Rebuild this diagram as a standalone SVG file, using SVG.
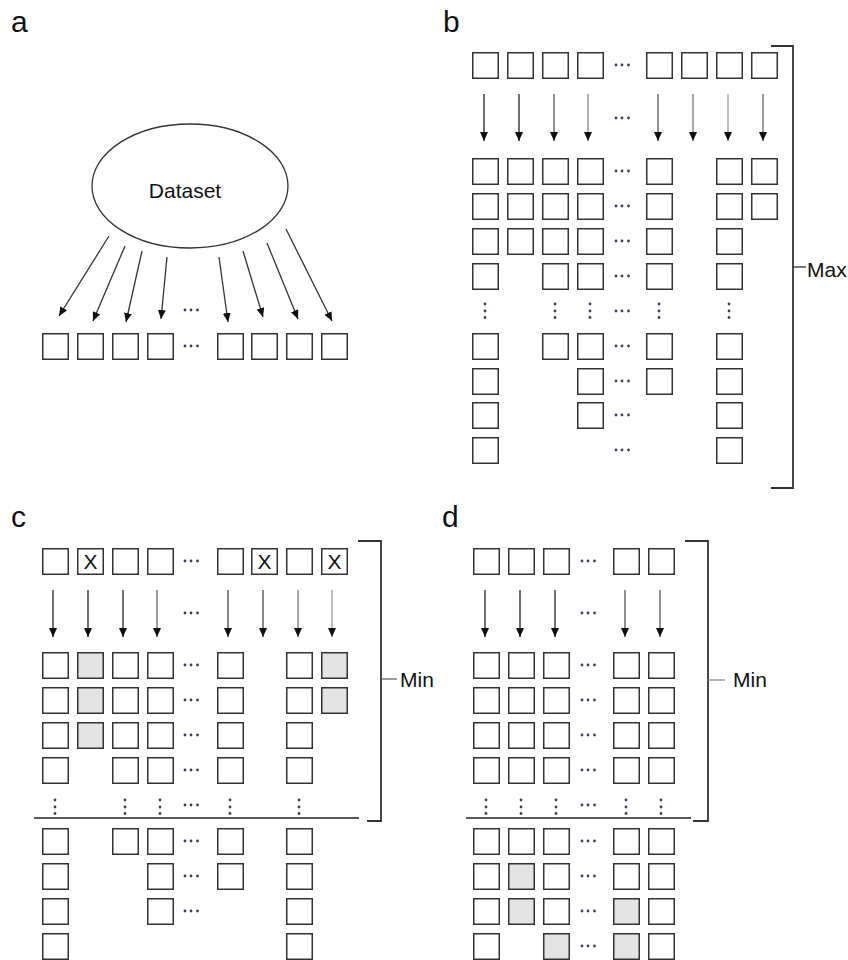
<svg xmlns="http://www.w3.org/2000/svg" width="848" height="960" viewBox="0 0 848 960">
<style>
.bx{fill:#fff;stroke:#333;stroke-width:1.5}
.gy{fill:#e3e3e3;stroke:#333;stroke-width:1.5}
.ar{stroke-width:1.3;fill:none}
.dt{fill:#3a3f5a}
.br{fill:none;stroke:#333;stroke-width:1.8}
.lbl{font-family:"Liberation Sans",Arial,sans-serif;fill:#111}
.pl{font-size:30px}
.tx{font-size:21px}
.xm{font-size:21px;text-anchor:middle}
</style>
<defs>
<marker id="ah" markerUnits="userSpaceOnUse" markerWidth="9" markerHeight="8" refX="9" refY="4" orient="auto">
<path d="M0,0 L9,4 L0,8 z" fill="#111"/>
</marker>
<g id="hd"><circle cx="-6" cy="0" r="1.4"/><circle cx="0" cy="0" r="1.4"/><circle cx="6.5" cy="0" r="1.4"/></g>
<g id="vd"><circle cx="0" cy="-7" r="1.4"/><circle cx="0" cy="0" r="1.4"/><circle cx="0" cy="6.5" r="1.4"/></g>
</defs>
<rect width="848" height="960" fill="#fff"/>

<!-- panel labels -->
<text class="lbl pl" x="11" y="32">a</text>
<text class="lbl pl" x="443" y="32">b</text>
<text class="lbl pl" x="11" y="527">c</text>
<text class="lbl pl" x="442" y="527">d</text>

<!-- ===== Panel a ===== -->
<g id="a-dataset">
<ellipse cx="190" cy="186" rx="98" ry="62" fill="#fff" stroke="#333" stroke-width="1.3"/>
<text class="lbl tx" x="185" y="198" text-anchor="middle">Dataset</text>
</g>
<g id="a-boxes">
<g id="a-1"><rect class="bx" x="42.75" y="333.75" width="25.5" height="25.5"/></g>
<g id="a-2"><rect class="bx" x="77.75" y="333.75" width="25.5" height="25.5"/></g>
<g id="a-3"><rect class="bx" x="112.75" y="333.75" width="25.5" height="25.5"/></g>
<g id="a-4"><rect class="bx" x="147.75" y="333.75" width="25.5" height="25.5"/></g>
<g id="a-5"><rect class="bx" x="217.75" y="333.75" width="25.5" height="25.5"/></g>
<g id="a-6"><rect class="bx" x="251.75" y="333.75" width="25.5" height="25.5"/></g>
<g id="a-7"><rect class="bx" x="286.75" y="333.75" width="25.5" height="25.5"/></g>
<g id="a-8"><rect class="bx" x="321.75" y="333.75" width="25.5" height="25.5"/></g>
</g>
<g class="dt">
<use href="#hd" x="191" y="310"/>
<use href="#hd" x="191" y="346"/>
</g>
<g id="a-connectors" class="ar" stroke="#333" marker-end="url(#ah)">
<line x1="109" y1="236" x2="59" y2="316"/>
<line x1="125" y1="246" x2="93" y2="321"/>
<line x1="142" y1="251" x2="126" y2="322"/>
<line x1="167" y1="257" x2="161" y2="319"/>
<line x1="219" y1="257" x2="228" y2="322"/>
<line x1="243" y1="251" x2="263" y2="317"/>
<line x1="267" y1="243" x2="298" y2="319"/>
<line x1="286" y1="229" x2="332" y2="321"/>
</g>

<!-- ===== Panel b ===== -->
<g id="b-top">
<g id="b-t1"><rect class="bx" x="472.75" y="52.75" width="25.5" height="25.5"/></g>
<g id="b-t2"><rect class="bx" x="507.75" y="52.75" width="25.5" height="25.5"/></g>
<g id="b-t3"><rect class="bx" x="542.75" y="52.75" width="25.5" height="25.5"/></g>
<g id="b-t4"><rect class="bx" x="577.75" y="52.75" width="25.5" height="25.5"/></g>
<g id="b-t5"><rect class="bx" x="646.75" y="52.75" width="25.5" height="25.5"/></g>
<g id="b-t6"><rect class="bx" x="681.75" y="52.75" width="25.5" height="25.5"/></g>
<g id="b-t7"><rect class="bx" x="716.75" y="52.75" width="25.5" height="25.5"/></g>
<g id="b-t8"><rect class="bx" x="751.75" y="52.75" width="25.5" height="25.5"/></g>
</g>
<g id="b-connectors" class="ar" marker-end="url(#ah)">
<line x1="484" y1="94" x2="484" y2="141" stroke="#222"/>
<line x1="519" y1="94" x2="519" y2="141" stroke="#222"/>
<line x1="554" y1="94" x2="554" y2="141" stroke="#555"/>
<line x1="588" y1="94" x2="588" y2="141" stroke="#888"/>
<line x1="658" y1="94" x2="658" y2="141" stroke="#555"/>
<line x1="693" y1="94" x2="693" y2="141" stroke="#777"/>
<line x1="728" y1="94" x2="728" y2="141" stroke="#999"/>
<line x1="763" y1="94" x2="763" y2="141" stroke="#666"/>
</g>
<g id="b-grid">
<g id="b-r1c1"><rect class="bx" x="472.75" y="158.75" width="25.5" height="25.5"/></g>
<g id="b-r1c2"><rect class="bx" x="507.75" y="158.75" width="25.5" height="25.5"/></g>
<g id="b-r1c3"><rect class="bx" x="542.75" y="158.75" width="25.5" height="25.5"/></g>
<g id="b-r1c4"><rect class="bx" x="577.75" y="158.75" width="25.5" height="25.5"/></g>
<g id="b-r1c5"><rect class="bx" x="646.75" y="158.75" width="25.5" height="25.5"/></g>
<g id="b-r1c7"><rect class="bx" x="716.75" y="158.75" width="25.5" height="25.5"/></g>
<g id="b-r1c8"><rect class="bx" x="751.75" y="158.75" width="25.5" height="25.5"/></g>
<g id="b-r2c1"><rect class="bx" x="472.75" y="193.75" width="25.5" height="25.5"/></g>
<g id="b-r2c2"><rect class="bx" x="507.75" y="193.75" width="25.5" height="25.5"/></g>
<g id="b-r2c3"><rect class="bx" x="542.75" y="193.75" width="25.5" height="25.5"/></g>
<g id="b-r2c4"><rect class="bx" x="577.75" y="193.75" width="25.5" height="25.5"/></g>
<g id="b-r2c5"><rect class="bx" x="646.75" y="193.75" width="25.5" height="25.5"/></g>
<g id="b-r2c7"><rect class="bx" x="716.75" y="193.75" width="25.5" height="25.5"/></g>
<g id="b-r2c8"><rect class="bx" x="751.75" y="193.75" width="25.5" height="25.5"/></g>
<g id="b-r3c1"><rect class="bx" x="472.75" y="228.75" width="25.5" height="25.5"/></g>
<g id="b-r3c2"><rect class="bx" x="507.75" y="228.75" width="25.5" height="25.5"/></g>
<g id="b-r3c3"><rect class="bx" x="542.75" y="228.75" width="25.5" height="25.5"/></g>
<g id="b-r3c4"><rect class="bx" x="577.75" y="228.75" width="25.5" height="25.5"/></g>
<g id="b-r3c5"><rect class="bx" x="646.75" y="228.75" width="25.5" height="25.5"/></g>
<g id="b-r3c7"><rect class="bx" x="716.75" y="228.75" width="25.5" height="25.5"/></g>
<g id="b-r4c1"><rect class="bx" x="472.75" y="263.75" width="25.5" height="25.5"/></g>
<g id="b-r4c3"><rect class="bx" x="542.75" y="263.75" width="25.5" height="25.5"/></g>
<g id="b-r4c4"><rect class="bx" x="577.75" y="263.75" width="25.5" height="25.5"/></g>
<g id="b-r4c5"><rect class="bx" x="646.75" y="263.75" width="25.5" height="25.5"/></g>
<g id="b-r4c7"><rect class="bx" x="716.75" y="263.75" width="25.5" height="25.5"/></g>
<g id="b-r5c1"><rect class="bx" x="472.75" y="333.75" width="25.5" height="25.5"/></g>
<g id="b-r5c3"><rect class="bx" x="542.75" y="333.75" width="25.5" height="25.5"/></g>
<g id="b-r5c4"><rect class="bx" x="577.75" y="333.75" width="25.5" height="25.5"/></g>
<g id="b-r5c5"><rect class="bx" x="646.75" y="333.75" width="25.5" height="25.5"/></g>
<g id="b-r5c7"><rect class="bx" x="716.75" y="333.75" width="25.5" height="25.5"/></g>
<g id="b-r6c1"><rect class="bx" x="472.75" y="368.75" width="25.5" height="25.5"/></g>
<g id="b-r6c4"><rect class="bx" x="577.75" y="368.75" width="25.5" height="25.5"/></g>
<g id="b-r6c5"><rect class="bx" x="646.75" y="368.75" width="25.5" height="25.5"/></g>
<g id="b-r6c7"><rect class="bx" x="716.75" y="368.75" width="25.5" height="25.5"/></g>
<g id="b-r7c1"><rect class="bx" x="472.75" y="402.75" width="25.5" height="25.5"/></g>
<g id="b-r7c4"><rect class="bx" x="577.75" y="402.75" width="25.5" height="25.5"/></g>
<g id="b-r7c7"><rect class="bx" x="716.75" y="402.75" width="25.5" height="25.5"/></g>
<g id="b-r8c1"><rect class="bx" x="472.75" y="437.75" width="25.5" height="25.5"/></g>
<g id="b-r8c7"><rect class="bx" x="716.75" y="437.75" width="25.5" height="25.5"/></g>
</g>
<g class="dt">
<use href="#hd" x="622" y="65"/>
<use href="#hd" x="622" y="118"/>
<use href="#hd" x="622" y="171"/>
<use href="#hd" x="622" y="206"/>
<use href="#hd" x="622" y="241"/>
<use href="#hd" x="622" y="276"/>
<use href="#hd" x="622" y="311"/>
<use href="#hd" x="622" y="346"/>
<use href="#hd" x="622" y="381"/>
<use href="#hd" x="622" y="415"/>
<use href="#hd" x="622" y="450"/>
<use href="#vd" x="485" y="311"/>
<use href="#vd" x="555" y="311"/>
<use href="#vd" x="590" y="311"/>
<use href="#vd" x="659" y="311"/>
<use href="#vd" x="729" y="311"/>
</g>
<g id="b-bracket">
<path class="br" d="M771,46 H793 V488 H771"/>
<line x1="793" y1="267" x2="806" y2="267" stroke="#333" stroke-width="1.3"/>
<text class="lbl tx" x="807" y="277">Max</text>
</g>

<!-- ===== Panel c ===== -->
<g id="c-top">
<g id="c-t1"><rect class="bx" x="42.75" y="548.75" width="25.5" height="25.5"/></g>
<g id="c-t2"><rect class="bx" x="77.75" y="548.75" width="25.5" height="25.5"/><text class="lbl xm" x="90.5" y="569">X</text></g>
<g id="c-t3"><rect class="bx" x="112.75" y="548.75" width="25.5" height="25.5"/></g>
<g id="c-t4"><rect class="bx" x="147.75" y="548.75" width="25.5" height="25.5"/></g>
<g id="c-t5"><rect class="bx" x="217.75" y="548.75" width="25.5" height="25.5"/></g>
<g id="c-t6"><rect class="bx" x="251.75" y="548.75" width="25.5" height="25.5"/><text class="lbl xm" x="264.5" y="569">X</text></g>
<g id="c-t7"><rect class="bx" x="286.75" y="548.75" width="25.5" height="25.5"/></g>
<g id="c-t8"><rect class="bx" x="321.75" y="548.75" width="25.5" height="25.5"/><text class="lbl xm" x="334.5" y="569">X</text></g>
</g>
<g id="c-connectors" class="ar" marker-end="url(#ah)">
<line x1="53" y1="590" x2="53" y2="637" stroke="#222"/>
<line x1="88" y1="590" x2="88" y2="637" stroke="#222"/>
<line x1="123" y1="590" x2="123" y2="637" stroke="#222"/>
<line x1="157" y1="590" x2="157" y2="637" stroke="#666"/>
<line x1="228" y1="590" x2="228" y2="637" stroke="#444"/>
<line x1="263" y1="590" x2="263" y2="637" stroke="#444"/>
<line x1="298" y1="590" x2="298" y2="637" stroke="#777"/>
<line x1="332" y1="590" x2="332" y2="637" stroke="#999"/>
</g>
<g id="c-grid">
<g id="c-r1c1"><rect class="bx" x="42.75" y="652.75" width="25.5" height="25.5"/></g>
<g id="c-r1c2"><rect class="gy" x="77.75" y="652.75" width="25.5" height="25.5"/></g>
<g id="c-r1c3"><rect class="bx" x="112.75" y="652.75" width="25.5" height="25.5"/></g>
<g id="c-r1c4"><rect class="bx" x="147.75" y="652.75" width="25.5" height="25.5"/></g>
<g id="c-r1c5"><rect class="bx" x="217.75" y="652.75" width="25.5" height="25.5"/></g>
<g id="c-r1c7"><rect class="bx" x="286.75" y="652.75" width="25.5" height="25.5"/></g>
<g id="c-r1c8"><rect class="gy" x="321.75" y="652.75" width="25.5" height="25.5"/></g>
<g id="c-r2c1"><rect class="bx" x="42.75" y="687.75" width="25.5" height="25.5"/></g>
<g id="c-r2c2"><rect class="gy" x="77.75" y="687.75" width="25.5" height="25.5"/></g>
<g id="c-r2c3"><rect class="bx" x="112.75" y="687.75" width="25.5" height="25.5"/></g>
<g id="c-r2c4"><rect class="bx" x="147.75" y="687.75" width="25.5" height="25.5"/></g>
<g id="c-r2c5"><rect class="bx" x="217.75" y="687.75" width="25.5" height="25.5"/></g>
<g id="c-r2c7"><rect class="bx" x="286.75" y="687.75" width="25.5" height="25.5"/></g>
<g id="c-r2c8"><rect class="gy" x="321.75" y="687.75" width="25.5" height="25.5"/></g>
<g id="c-r3c1"><rect class="bx" x="42.75" y="722.75" width="25.5" height="25.5"/></g>
<g id="c-r3c2"><rect class="gy" x="77.75" y="722.75" width="25.5" height="25.5"/></g>
<g id="c-r3c3"><rect class="bx" x="112.75" y="722.75" width="25.5" height="25.5"/></g>
<g id="c-r3c4"><rect class="bx" x="147.75" y="722.75" width="25.5" height="25.5"/></g>
<g id="c-r3c5"><rect class="bx" x="217.75" y="722.75" width="25.5" height="25.5"/></g>
<g id="c-r3c7"><rect class="bx" x="286.75" y="722.75" width="25.5" height="25.5"/></g>
<g id="c-r4c1"><rect class="bx" x="42.75" y="757.75" width="25.5" height="25.5"/></g>
<g id="c-r4c3"><rect class="bx" x="112.75" y="757.75" width="25.5" height="25.5"/></g>
<g id="c-r4c4"><rect class="bx" x="147.75" y="757.75" width="25.5" height="25.5"/></g>
<g id="c-r4c5"><rect class="bx" x="217.75" y="757.75" width="25.5" height="25.5"/></g>
<g id="c-r4c7"><rect class="bx" x="286.75" y="757.75" width="25.5" height="25.5"/></g>
<g id="c-r5c1"><rect class="bx" x="42.75" y="828.75" width="25.5" height="25.5"/></g>
<g id="c-r5c3"><rect class="bx" x="112.75" y="828.75" width="25.5" height="25.5"/></g>
<g id="c-r5c4"><rect class="bx" x="147.75" y="828.75" width="25.5" height="25.5"/></g>
<g id="c-r5c5"><rect class="bx" x="217.75" y="828.75" width="25.5" height="25.5"/></g>
<g id="c-r5c7"><rect class="bx" x="286.75" y="828.75" width="25.5" height="25.5"/></g>
<g id="c-r6c1"><rect class="bx" x="42.75" y="863.75" width="25.5" height="25.5"/></g>
<g id="c-r6c4"><rect class="bx" x="147.75" y="863.75" width="25.5" height="25.5"/></g>
<g id="c-r6c5"><rect class="bx" x="217.75" y="863.75" width="25.5" height="25.5"/></g>
<g id="c-r6c7"><rect class="bx" x="286.75" y="863.75" width="25.5" height="25.5"/></g>
<g id="c-r7c1"><rect class="bx" x="42.75" y="898.75" width="25.5" height="25.5"/></g>
<g id="c-r7c4"><rect class="bx" x="147.75" y="898.75" width="25.5" height="25.5"/></g>
<g id="c-r7c7"><rect class="bx" x="286.75" y="898.75" width="25.5" height="25.5"/></g>
<g id="c-r8c1"><rect class="bx" x="42.75" y="933.75" width="25.5" height="25.5"/></g>
<g id="c-r8c7"><rect class="bx" x="286.75" y="933.75" width="25.5" height="25.5"/></g>
</g>
<g class="dt">
<use href="#hd" x="191" y="561"/>
<use href="#hd" x="191" y="613"/>
<use href="#hd" x="191" y="665"/>
<use href="#hd" x="191" y="700"/>
<use href="#hd" x="191" y="735"/>
<use href="#hd" x="191" y="770"/>
<use href="#hd" x="191" y="805"/>
<use href="#hd" x="191" y="841"/>
<use href="#hd" x="191" y="876"/>
<use href="#hd" x="191" y="911"/>
<use href="#vd" x="55" y="807"/>
<use href="#vd" x="125" y="807"/>
<use href="#vd" x="160" y="807"/>
<use href="#vd" x="230" y="807"/>
<use href="#vd" x="299" y="807"/>
</g>
<line x1="34" y1="818" x2="359" y2="818" stroke="#222" stroke-width="1.6"/>
<g id="c-bracket">
<path class="br" d="M358,541 H381 V821 H367"/>
<line x1="381" y1="679" x2="397" y2="679" stroke="#666" stroke-width="1.3"/>
<text class="lbl tx" x="400" y="687">Min</text>
</g>

<!-- ===== Panel d ===== -->
<g id="d-top">
<g id="d-t1"><rect class="bx" x="473.75" y="548.75" width="25.5" height="25.5"/></g>
<g id="d-t2"><rect class="bx" x="508.75" y="548.75" width="25.5" height="25.5"/></g>
<g id="d-t3"><rect class="bx" x="543.75" y="548.75" width="25.5" height="25.5"/></g>
<g id="d-t4"><rect class="bx" x="613.75" y="548.75" width="25.5" height="25.5"/></g>
<g id="d-t5"><rect class="bx" x="648.75" y="548.75" width="25.5" height="25.5"/></g>
</g>
<g id="d-connectors" class="ar" marker-end="url(#ah)">
<line x1="485" y1="590" x2="485" y2="637" stroke="#222"/>
<line x1="520" y1="590" x2="520" y2="637" stroke="#222"/>
<line x1="555" y1="590" x2="555" y2="637" stroke="#222"/>
<line x1="625" y1="590" x2="625" y2="637" stroke="#555"/>
<line x1="660" y1="590" x2="660" y2="637" stroke="#555"/>
</g>
<g id="d-grid">
<g id="d-r1c1"><rect class="bx" x="473.75" y="652.75" width="25.5" height="25.5"/></g>
<g id="d-r1c2"><rect class="bx" x="508.75" y="652.75" width="25.5" height="25.5"/></g>
<g id="d-r1c3"><rect class="bx" x="543.75" y="652.75" width="25.5" height="25.5"/></g>
<g id="d-r1c4"><rect class="bx" x="613.75" y="652.75" width="25.5" height="25.5"/></g>
<g id="d-r1c5"><rect class="bx" x="648.75" y="652.75" width="25.5" height="25.5"/></g>
<g id="d-r2c1"><rect class="bx" x="473.75" y="687.75" width="25.5" height="25.5"/></g>
<g id="d-r2c2"><rect class="bx" x="508.75" y="687.75" width="25.5" height="25.5"/></g>
<g id="d-r2c3"><rect class="bx" x="543.75" y="687.75" width="25.5" height="25.5"/></g>
<g id="d-r2c4"><rect class="bx" x="613.75" y="687.75" width="25.5" height="25.5"/></g>
<g id="d-r2c5"><rect class="bx" x="648.75" y="687.75" width="25.5" height="25.5"/></g>
<g id="d-r3c1"><rect class="bx" x="473.75" y="722.75" width="25.5" height="25.5"/></g>
<g id="d-r3c2"><rect class="bx" x="508.75" y="722.75" width="25.5" height="25.5"/></g>
<g id="d-r3c3"><rect class="bx" x="543.75" y="722.75" width="25.5" height="25.5"/></g>
<g id="d-r3c4"><rect class="bx" x="613.75" y="722.75" width="25.5" height="25.5"/></g>
<g id="d-r3c5"><rect class="bx" x="648.75" y="722.75" width="25.5" height="25.5"/></g>
<g id="d-r4c1"><rect class="bx" x="473.75" y="757.75" width="25.5" height="25.5"/></g>
<g id="d-r4c2"><rect class="bx" x="508.75" y="757.75" width="25.5" height="25.5"/></g>
<g id="d-r4c3"><rect class="bx" x="543.75" y="757.75" width="25.5" height="25.5"/></g>
<g id="d-r4c4"><rect class="bx" x="613.75" y="757.75" width="25.5" height="25.5"/></g>
<g id="d-r4c5"><rect class="bx" x="648.75" y="757.75" width="25.5" height="25.5"/></g>
<g id="d-r5c1"><rect class="bx" x="473.75" y="828.75" width="25.5" height="25.5"/></g>
<g id="d-r5c2"><rect class="bx" x="508.75" y="828.75" width="25.5" height="25.5"/></g>
<g id="d-r5c3"><rect class="bx" x="543.75" y="828.75" width="25.5" height="25.5"/></g>
<g id="d-r5c4"><rect class="bx" x="613.75" y="828.75" width="25.5" height="25.5"/></g>
<g id="d-r5c5"><rect class="bx" x="648.75" y="828.75" width="25.5" height="25.5"/></g>
<g id="d-r6c1"><rect class="bx" x="473.75" y="863.75" width="25.5" height="25.5"/></g>
<g id="d-r6c2"><rect class="gy" x="508.75" y="863.75" width="25.5" height="25.5"/></g>
<g id="d-r6c3"><rect class="bx" x="543.75" y="863.75" width="25.5" height="25.5"/></g>
<g id="d-r6c4"><rect class="bx" x="613.75" y="863.75" width="25.5" height="25.5"/></g>
<g id="d-r6c5"><rect class="bx" x="648.75" y="863.75" width="25.5" height="25.5"/></g>
<g id="d-r7c1"><rect class="bx" x="473.75" y="898.75" width="25.5" height="25.5"/></g>
<g id="d-r7c2"><rect class="gy" x="508.75" y="898.75" width="25.5" height="25.5"/></g>
<g id="d-r7c3"><rect class="bx" x="543.75" y="898.75" width="25.5" height="25.5"/></g>
<g id="d-r7c4"><rect class="gy" x="613.75" y="898.75" width="25.5" height="25.5"/></g>
<g id="d-r7c5"><rect class="bx" x="648.75" y="898.75" width="25.5" height="25.5"/></g>
<g id="d-r8c1"><rect class="bx" x="473.75" y="933.75" width="25.5" height="25.5"/></g>
<g id="d-r8c3"><rect class="gy" x="543.75" y="933.75" width="25.5" height="25.5"/></g>
<g id="d-r8c4"><rect class="gy" x="613.75" y="933.75" width="25.5" height="25.5"/></g>
<g id="d-r8c5"><rect class="bx" x="648.75" y="933.75" width="25.5" height="25.5"/></g>
</g>
<g class="dt">
<use href="#hd" x="588" y="561"/>
<use href="#hd" x="588" y="613"/>
<use href="#hd" x="588" y="665"/>
<use href="#hd" x="588" y="700"/>
<use href="#hd" x="588" y="735"/>
<use href="#hd" x="588" y="770"/>
<use href="#hd" x="588" y="805"/>
<use href="#hd" x="588" y="841"/>
<use href="#hd" x="588" y="876"/>
<use href="#hd" x="588" y="911"/>
<use href="#hd" x="588" y="946"/>
<use href="#vd" x="486" y="807"/>
<use href="#vd" x="521" y="807"/>
<use href="#vd" x="556" y="807"/>
<use href="#vd" x="626" y="807"/>
<use href="#vd" x="661" y="807"/>
</g>
<line x1="466" y1="818" x2="691" y2="818" stroke="#222" stroke-width="1.6"/>
<g id="d-bracket">
<path class="br" d="M685,541 H708 V821 H693"/>
<line x1="708" y1="680" x2="725" y2="680" stroke="#888" stroke-width="1.3"/>
<text class="lbl tx" x="733" y="687">Min</text>
</g>
</svg>
